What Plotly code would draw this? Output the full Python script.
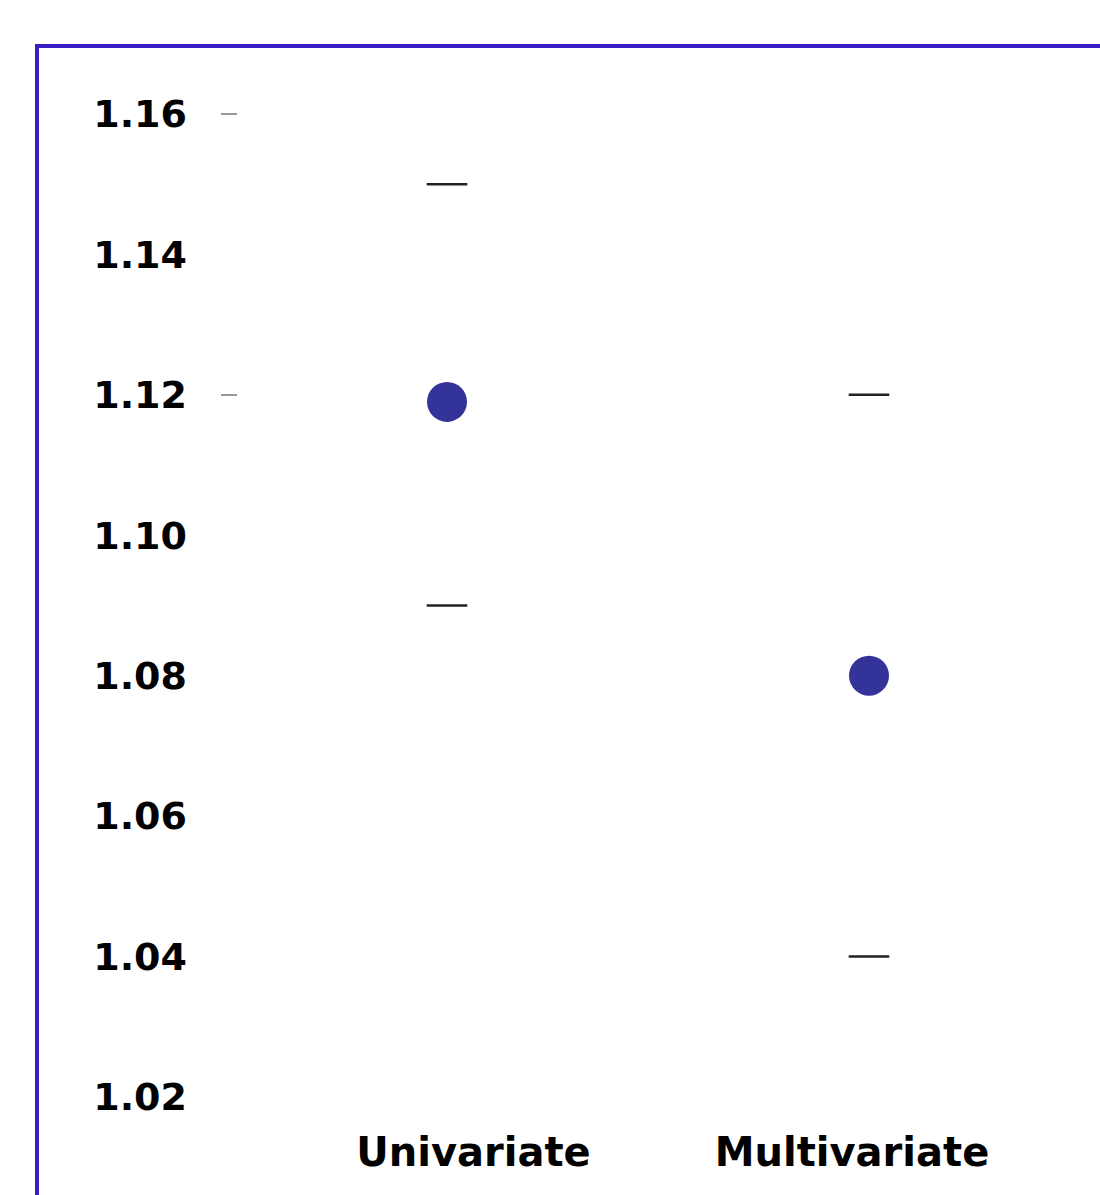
import plotly.graph_objects as go

categories = ["Univariate", "Multivariate"]
odds_ratio = [1.119, 1.080]
ci_lower = [1.090, 1.040]
ci_upper = [1.150, 1.120]
y_ticks = [1.02, 1.04, 1.06, 1.08, 1.10, 1.12, 1.14, 1.16]
y_tick_labels = ["1.02", "1.04", "1.06", "1.08", "1.10", "1.12", "1.14", "1.16"]
dash_ticks = [1.16, 1.12]

W, H = 1100, 1195
ML, MR, MT, MB = 238, 0, 45, 98
plot_w = W - ML - MR
plot_h = H - MT - MB

# y range: 1.16 -> 114px, 1.02 -> 1097px
ppu = (1097 - 114) / 0.14
y_top = 1.16 + (114 - MT) / ppu
y_bot = 1.02 - ((H - MB) - 1097) / ppu

# point axis: categories at 447 and 869 px
sp_pts = 869 - 447
x0_pts = -(447 - ML) / sp_pts
x1_pts = x0_pts + plot_w / sp_pts
# label axis: labels centered at 473.5 and 852 px
sp_lab = 852 - 473.5
x0_lab = -(473.5 - ML) / sp_lab
x1_lab = x0_lab + plot_w / sp_lab

yfont = dict(family="DejaVu Sans, Verdana, sans-serif", size=38, color="black", weight="bold")
xfont = dict(family="DejaVu Sans, Verdana, sans-serif", size=40, color="black", weight="bold")

fig = go.Figure()
for ci in (ci_upper, ci_lower):
    fig.add_trace(go.Scatter(
        x=categories, y=ci, mode="markers",
        marker=dict(symbol="line-ew", size=29, line=dict(width=2.5, color="#222222")),
        showlegend=False, hoverinfo="skip"))
fig.add_trace(go.Scatter(
    x=categories, y=odds_ratio, mode="markers",
    marker=dict(symbol="circle", size=40, color="#333399", line=dict(width=0)),
    showlegend=False))
# invisible trace to activate the label axis and the tick-dash axis
fig.add_trace(go.Scatter(x=categories, y=odds_ratio, xaxis="x2", yaxis="y2",
                         mode="markers", marker=dict(opacity=0), showlegend=False,
                         hoverinfo="skip"))

fig.update_layout(
    width=W, height=H,
    margin=dict(l=ML, r=MR, t=MT, b=MB),
    paper_bgcolor="white", plot_bgcolor="white",
    xaxis=dict(type="category", categoryorder="array", categoryarray=categories,
               range=[x0_pts, x1_pts], showticklabels=False, showgrid=False,
               zeroline=False, showline=False, ticks=""),
    xaxis2=dict(type="category", categoryorder="array", categoryarray=categories,
                overlaying="x", side="bottom", anchor="y",
                range=[x0_lab, x1_lab], showgrid=False, zeroline=False,
                showline=False, ticks="", tickfont=xfont, ticklabelstandoff=28),
    yaxis=dict(range=[y_bot, y_top], tickvals=y_ticks, ticktext=y_tick_labels,
               showgrid=False, zeroline=False, showline=False, ticks="",
               tickfont=yfont, ticklabelstandoff=50),
    yaxis2=dict(range=[y_bot, y_top], overlaying="y", anchor="x", side="left",
                tickvals=dash_ticks, showticklabels=False, ticks="outside",
                ticklen=16, tickwidth=2, tickcolor="#999999",
                showgrid=False, zeroline=False, showline=False),
    shapes=[dict(type="rect", xref="paper", yref="paper",
                 x0=(37 - ML) / plot_w, x1=1.2,
                 y0=-0.3, y1=1 - (46 - MT) / plot_h,
                 line=dict(color="#3A1CC4", width=4), fillcolor="rgba(0,0,0,0)",
                 layer="above")],
)

fig.write_html("out.html")
